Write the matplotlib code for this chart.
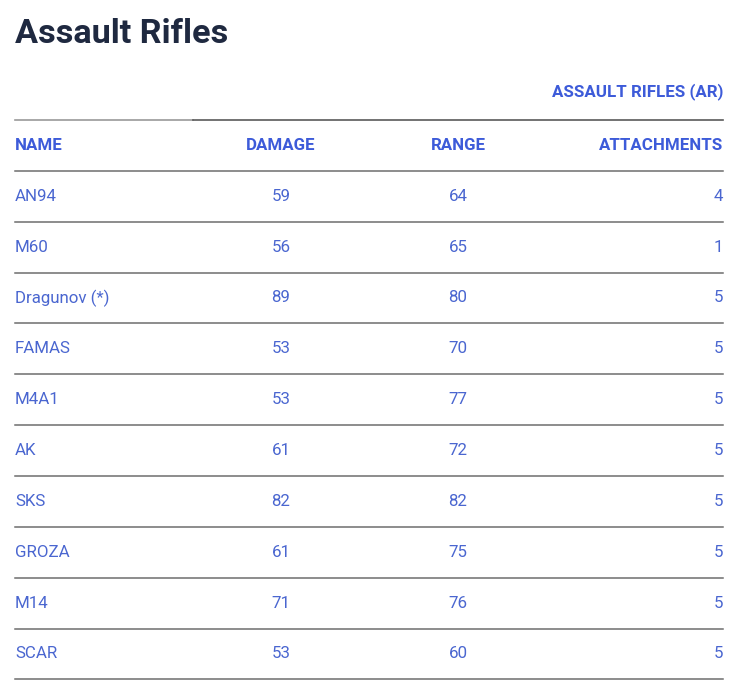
import matplotlib.pyplot as plt

names = ['AN94', 'M60', 'Dragunov (*)', 'FAMAS', 'M4A1', 'AK', 'SKS', 'GROZA', 'M14', 'SCAR']
damage = [59, 56, 89, 53, 53, 61, 82, 61, 71, 53]
rng = [64, 65, 80, 70, 77, 72, 82, 75, 76, 60]
attachments = [4, 1, 5, 5, 5, 5, 5, 5, 5, 5]
headers = ['NAME', 'DAMAGE', 'RANGE', 'ATTACHMENTS']

plt.rcParams['font.family'] = ['Roboto', 'DejaVu Sans']

fig = plt.figure(figsize=(7.4, 6.93), dpi=100)
ax = fig.add_axes([0, 0, 1, 1])
ax.set_xlim(0, 740)
ax.set_ylim(693, 0)
ax.axis('off')

head_c = '#3d5bd9'
cell_c = '#4a66d0'
line_c = '#6e6e6e'
left, right = 15, 723
x_dmg, x_rng = 281, 458
top = 120
row_h = 50.85
fs = 12.2

ax.text(left, 34, 'Assault Rifles', fontsize=24.7, fontweight='bold',
        color='#1f2940', va='center', ha='left')
ax.text(right, 92, 'ASSAULT RIFLES (AR)', fontsize=fs, fontweight='bold',
        color=head_c, va='center', ha='right')

# top rule (lighter on the left part)
ax.plot([left, 193], [top, top], color='#9a9a9a', lw=1.2)
ax.plot([193, right], [top, top], color='#5a5a5a', lw=1.2)

hy = top + row_h / 2
xs = [left, x_dmg, x_rng, right]
has = ['left', 'center', 'center', 'right']
for h, x, ha in zip(headers, xs, has):
    ax.text(x, hy, h, fontsize=fs, fontweight='bold', color=head_c, va='center', ha=ha)

for i in range(len(names) + 1):
    y = top + (i + 1) * row_h
    ax.plot([left, right], [y, y], color=line_c, lw=1.1)

for i, (n, d, r, a) in enumerate(zip(names, damage, rng, attachments)):
    y = top + (i + 1.5) * row_h
    ax.text(left, y, n, fontsize=fs, color=cell_c, va='center', ha='left')
    ax.text(x_dmg, y, str(d), fontsize=fs, color=cell_c, va='center', ha='center')
    ax.text(x_rng, y, str(r), fontsize=fs, color=cell_c, va='center', ha='center')
    ax.text(right, y, str(a), fontsize=fs, color=cell_c, va='center', ha='right')

fig.savefig('out.png', dpi=100, facecolor='white')
